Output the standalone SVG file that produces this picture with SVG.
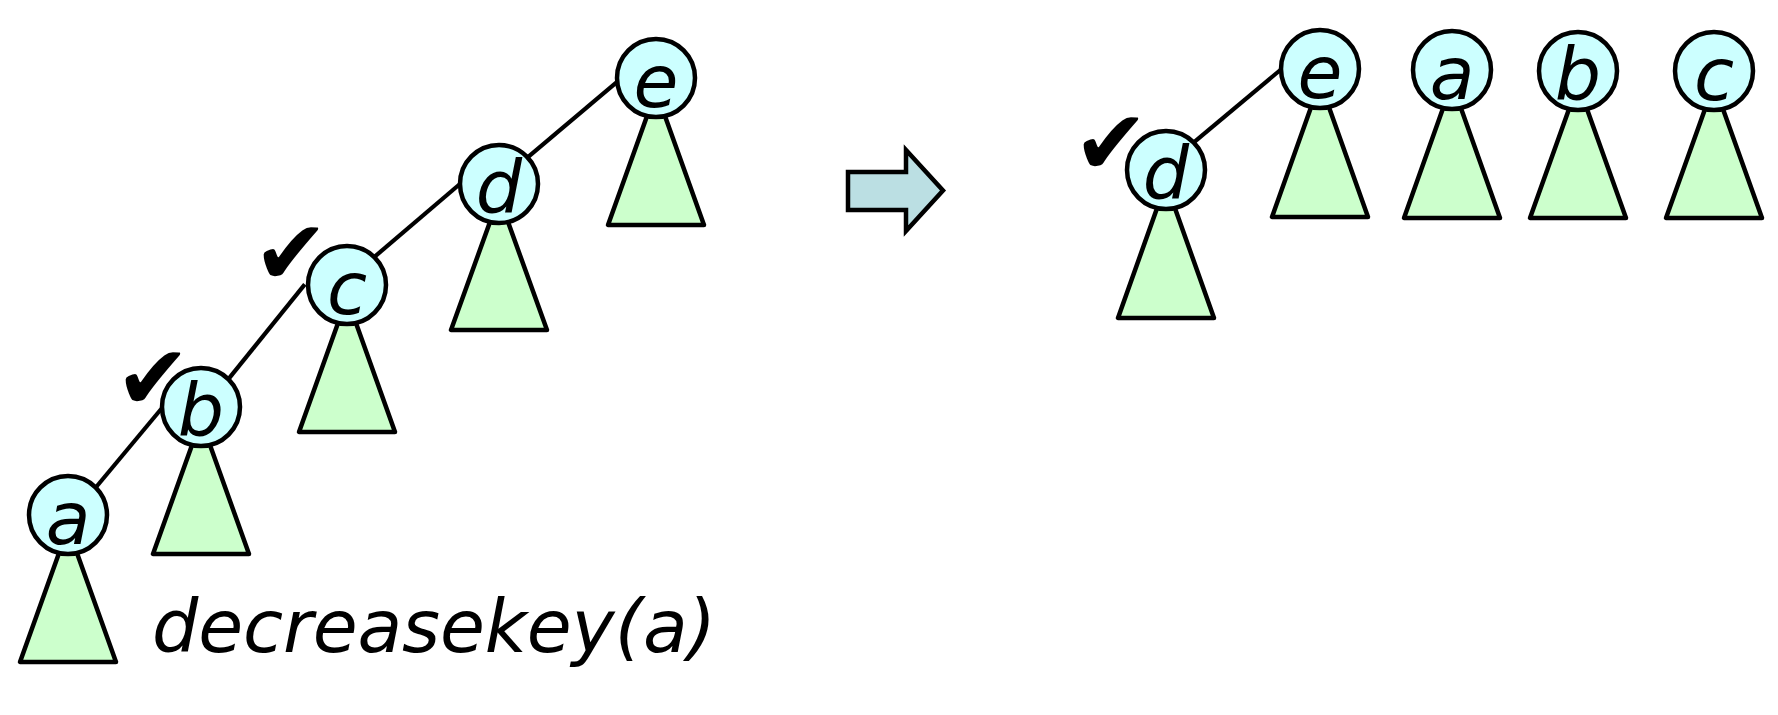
<svg xmlns="http://www.w3.org/2000/svg" width="1778" height="715" viewBox="0 0 1778 715">
<style>
.edge{stroke:#000;stroke-width:4.2;fill:none}
.tri{fill:#CCFFCC;stroke:#000;stroke-width:4.5;stroke-linejoin:round}
.node{fill:#CCFFFF;stroke:#000;stroke-width:4.5}
.lbl{font-family:"DejaVu Sans",Verdana,sans-serif;font-style:italic;font-size:73px;text-anchor:middle;fill:#000}
.chk{font-family:"DejaVu Sans",sans-serif;font-size:90px;text-anchor:middle;fill:#000}
</style>
<rect width="1778" height="715" fill="#fff"/>
<g id="connectors">
<line class="edge" x1="92" y1="492" x2="162" y2="408"/>
<line class="edge" x1="228.6" y1="378.9" x2="304.8" y2="284.4"/>
<line class="edge" x1="372.9" y1="258.2" x2="460.5" y2="183.5"/>
<line class="edge" x1="527.9" y1="157.2" x2="617.1" y2="81.8"/>
<line class="edge" x1="1192.9" y1="143.2" x2="1282.1" y2="68.5"/>
</g>
<g id="node-a-left">
<polygon class="tri" points="68,528 20,662 116,662"/>
<circle class="node" cx="68" cy="515" r="39"/>
<text class="lbl" x="68" y="544">a</text>
</g>
<g id="node-b-left">
<polygon class="tri" points="201,420 153,554 249,554"/>
<circle class="node" cx="201" cy="407" r="39"/>
<text class="lbl" x="201" y="436">b</text>
</g>
<g id="node-c-left">
<polygon class="tri" points="347,298 299,432 395,432"/>
<circle class="node" cx="347" cy="285" r="39"/>
<text class="lbl" x="347" y="314">c</text>
</g>
<g id="node-d-left">
<polygon class="tri" points="499,197 451,330 547,330"/>
<circle class="node" cx="499" cy="184" r="39"/>
<text class="lbl" x="499" y="213">d</text>
</g>
<g id="node-e-left">
<polygon class="tri" points="656,91 608,225 704,225"/>
<circle class="node" cx="656" cy="78" r="39"/>
<text class="lbl" x="656" y="107">e</text>
</g>
<g id="marks-left">
<text class="chk" x="291" y="284">✔</text>
<text class="chk" x="153" y="409">✔</text>
</g>
<g id="caption">
<text class="lbl" x="152" y="652" style="text-anchor:start" textLength="564" lengthAdjust="spacing">decreasekey(a)</text>
</g>
<g id="arrow">
<path d="M848,172 H906 V150 L943,190.5 L906,231 V210 H848 Z" fill="#BBDFE3" stroke="#000" stroke-width="4.5" stroke-linejoin="miter"/>
</g>
<g id="node-d-right">
<polygon class="tri" points="1166,183 1118,318 1214,318"/>
<circle class="node" cx="1166" cy="170" r="39"/>
<text class="lbl" x="1166" y="199">d</text>
<text class="chk" x="1111" y="174">✔</text>
</g>
<g id="node-e-right">
<polygon class="tri" points="1320,82 1272,217 1368,217"/>
<circle class="node" cx="1320" cy="69" r="39"/>
<text class="lbl" x="1320" y="98">e</text>
</g>
<g id="node-a-right">
<polygon class="tri" points="1452,83 1404,218 1500,218"/>
<circle class="node" cx="1452" cy="70" r="39"/>
<text class="lbl" x="1452" y="99">a</text>
</g>
<g id="node-b-right">
<polygon class="tri" points="1578,84 1530,218 1626,218"/>
<circle class="node" cx="1578" cy="71" r="39"/>
<text class="lbl" x="1578" y="100">b</text>
</g>
<g id="node-c-right">
<polygon class="tri" points="1714,84 1666,218 1762,218"/>
<circle class="node" cx="1714" cy="71" r="39"/>
<text class="lbl" x="1714" y="100">c</text>
</g>
</svg>
